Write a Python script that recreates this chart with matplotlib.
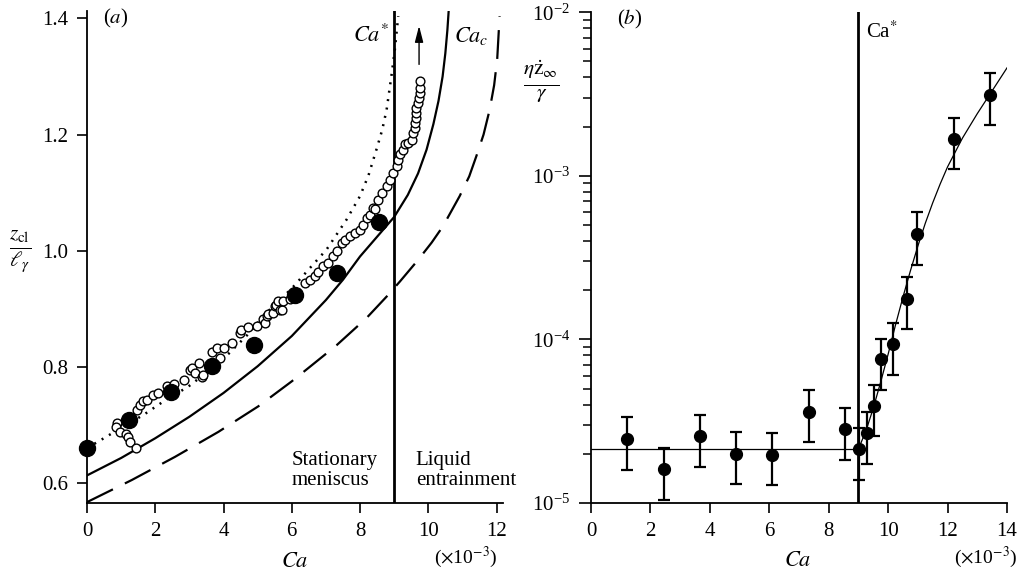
import numpy as np
import matplotlib
matplotlib.use("Agg")
import matplotlib.pyplot as plt
from matplotlib.ticker import LogLocator, NullFormatter

plt.rcParams['font.family'] = ['Liberation Serif', 'DejaVu Serif']
plt.rcParams['mathtext.fontset'] = 'stix'
plt.rcParams['font.size'] = 14

# ---------------- Panel (a) data ----------------
# filled circles
a_filled_ca = [0.0, 1.22, 2.45, 3.67, 4.89, 6.10, 7.33, 8.55]
a_filled_z = [0.660, 0.709, 0.757, 0.801, 0.837, 0.924, 0.962, 1.049]

# open circles
a_open_ca = [0.87, 0.85, 0.97, 1.14, 1.21, 1.26, 1.43, 1.47, 1.55, 1.63, 1.75, 1.92,
             2.09, 2.33, 2.55, 2.85, 3.02, 3.09, 3.16, 3.28, 3.36, 3.41, 3.65, 3.80,
             3.89, 4.01, 4.24, 4.48, 4.50, 4.72, 4.97, 5.16, 5.21, 5.26, 5.31, 5.46,
             5.51, 5.55, 5.60, 5.65, 5.70, 5.73, 5.94, 6.38, 6.53, 6.68, 6.77, 6.92,
             7.07, 7.21, 7.33, 7.46, 7.55, 7.70, 7.85, 7.99, 8.09, 8.19, 8.29, 8.38,
             8.43, 8.53, 8.63, 8.78, 8.87, 8.97, 9.07, 9.12, 9.17, 9.26, 9.31, 9.41,
             9.51, 9.56, 9.60, 9.60, 9.63, 9.65, 9.65, 9.70, 9.73, 9.75, 9.75, 9.77]
a_open_z = [0.704, 0.697, 0.688, 0.684, 0.679, 0.670, 0.660, 0.725, 0.734, 0.742, 0.743, 0.752,
            0.755, 0.767, 0.771, 0.778, 0.795, 0.798, 0.789, 0.806, 0.783, 0.786, 0.826, 0.832,
            0.815, 0.832, 0.841, 0.859, 0.864, 0.868, 0.870, 0.882, 0.875, 0.887, 0.891, 0.893,
            0.904, 0.907, 0.913, 0.898, 0.898, 0.914, 0.916, 0.944, 0.950, 0.956, 0.964, 0.973,
            0.979, 0.990, 0.999, 1.013, 1.019, 1.025, 1.030, 1.036, 1.045, 1.056, 1.062, 1.074,
            1.071, 1.088, 1.099, 1.111, 1.122, 1.134, 1.145, 1.157, 1.166, 1.174, 1.183, 1.186,
            1.191, 1.203, 1.211, 1.220, 1.228, 1.237, 1.245, 1.254, 1.263, 1.272, 1.280, 1.292]

# theoretical curves
solid_ca = [0.0, 1.0, 2.0, 3.0, 4.0, 5.0, 6.0, 7.0, 7.5, 8.0, 8.5, 9.0, 9.4, 9.7, 9.95,
            10.15, 10.3, 10.42, 10.5, 10.56, 10.6]
solid_z = [0.613, 0.643, 0.677, 0.714, 0.755, 0.801, 0.853, 0.915, 0.950, 0.990, 1.024,
           1.058, 1.096, 1.133, 1.174, 1.218, 1.258, 1.300, 1.340, 1.380, 1.415]

dashed_ca = [0.0, 1.31, 2.58, 3.85, 5.02, 6.0, 6.53, 7.31, 8.19, 8.78, 9.17, 9.70, 10.10,
             10.43, 10.92, 11.20, 11.41, 11.62, 11.80, 11.93, 12.02, 12.09]
dashed_z = [0.567, 0.605, 0.645, 0.688, 0.732, 0.775, 0.800, 0.837, 0.884, 0.921, 0.947,
            0.984, 1.014, 1.042, 1.094, 1.128, 1.163, 1.200, 1.243, 1.285, 1.330, 1.404]

dotted_ca = [0.0, 0.55, 1.0, 1.65, 2.23, 2.97, 3.5, 4.14, 4.7, 5.26, 6.00, 6.53, 7.02, 7.60,
             8.00, 8.25, 8.48, 8.65, 8.78, 8.92, 9.02, 9.12]
dotted_z = [0.660, 0.679, 0.695, 0.717, 0.740, 0.766, 0.790, 0.822, 0.855, 0.893, 0.935,
            0.970, 1.002, 1.053, 1.094, 1.130, 1.174, 1.208, 1.243, 1.301, 1.346, 1.404]

ca_star = 9.0

# ---------------- Panel (b) data ----------------
b_ca = [1.22, 2.45, 3.67, 4.89, 6.10, 7.33, 8.55, 9.03, 9.28, 9.52, 9.76, 10.18,
        10.65, 10.97, 12.20, 13.43]
b_rate = [2.47e-5, 1.61e-5, 2.56e-5, 2.00e-5, 1.97e-5, 3.62e-5, 2.82e-5, 2.14e-5,
          2.66e-5, 3.90e-5, 7.55e-5, 9.35e-5, 1.77e-4, 4.41e-4, 1.69e-3, 3.10e-3]
b_upper = [3.34e-5, 2.17e-5, 3.44e-5, 2.71e-5, 2.66e-5, 4.91e-5, 3.81e-5, 2.88e-5,
           3.59e-5, 5.30e-5, 1.01e-4, 1.26e-4, 2.40e-4, 5.97e-4, 2.27e-3, 4.23e-3]
b_lower = [1.60e-5, 1.05e-5, 1.66e-5, 1.31e-5, 1.28e-5, 2.36e-5, 1.84e-5, 1.39e-5,
           1.74e-5, 2.56e-5, 4.93e-5, 6.10e-5, 1.15e-4, 2.86e-4, 1.10e-3, 2.04e-3]

plateau_ca = [0.0, 9.0]
plateau_rate = [2.14e-5, 2.14e-5]
fit_ca = [9.00, 9.25, 9.50, 9.75, 10.00, 10.25, 10.50, 10.75, 11.00, 11.25, 11.50,
          11.75, 12.00, 12.50, 13.00, 13.50, 14.00]
fit_rate = [2.14e-5, 2.75e-5, 3.80e-5, 5.50e-5, 8.13e-5, 1.23e-4, 1.82e-4, 2.63e-4,
            3.72e-4, 5.13e-4, 6.84e-4, 8.91e-4, 1.135e-3, 1.70e-3, 2.40e-3, 3.31e-3, 4.57e-3]

a_xticks = [0, 2, 4, 6, 8, 10, 12]
a_yticks = [0.6, 0.8, 1.0, 1.2, 1.4]
b_xticks = [0, 2, 4, 6, 8, 10, 12, 14]

# ---------------- Figure ----------------
fig = plt.figure(figsize=(10.26, 5.74), dpi=100)
axa = fig.add_axes([0.0848, 0.1237, 0.4058, 0.857])
axb = fig.add_axes([0.576, 0.1237, 0.4055, 0.855])

for ax in (axa, axb):
    for s in ('top', 'right'):
        ax.spines[s].set_visible(False)
    for s in ('left', 'bottom'):
        ax.spines[s].set_linewidth(1.3)
    ax.tick_params(direction='out', length=7.5, width=1.2, labelsize=15, pad=6)

# Panel (a)
axa.plot(dashed_ca, dashed_z, color='black', lw=1.6, linestyle=(0, (13, 6)))
axa.plot(solid_ca, solid_z, color='black', lw=1.6)
axa.plot(dotted_ca, dotted_z, color='black', lw=1.8, linestyle=(0, (0.8, 2.6)))
axa.axvline(ca_star, color='black', lw=2.0)
axa.plot(a_open_ca, a_open_z, linestyle='none', marker='o', markersize=6.3,
         markerfacecolor='white', markeredgecolor='black', markeredgewidth=1.0)
axa.plot(a_filled_ca, a_filled_z, linestyle='none', marker='o', markersize=11.5,
         color='black', clip_on=False, zorder=5)
axa.annotate('', xy=(9.73, 1.392), xytext=(9.73, 1.316),
             arrowprops=dict(arrowstyle='-|>,head_length=0.7,head_width=0.18',
                             color='black', lw=1.0))
axa.set_xlim(0, 12.2)
axa.set_ylim(0.5655, 1.4126)
axa.set_xticks(a_xticks)
axa.set_yticks(a_yticks)
axa.set_yticklabels(['0.6', '0.8', '1.0', '1.2', '1.4'])
axa.text(0.85, 1.40, '($a$)', ha='center', va='center', fontsize=15)
axa.text(8.86, 1.37, r'$Ca^{*}$', ha='right', va='center', fontsize=16)
axa.text(10.75, 1.37, r'$Ca_{c}$', ha='left', va='center', fontsize=16)
axa.text(6.0, 0.621, 'Stationary\nmeniscus', ha='left', va='center', fontsize=15,
         linespacing=1.1)
axa.text(9.63, 0.621, 'Liquid\nentrainment', ha='left', va='center', fontsize=15,
         linespacing=1.1)
axa.text(6.1, -0.12, r'$Ca$', transform=axa.get_xaxis_transform(), ha='center',
         va='center', fontsize=16)
axa.text(11.1, -0.11, r'($\times$10$^{-3}$)', transform=axa.get_xaxis_transform(),
         ha='center', va='center', fontsize=14)
fig.text(0.0195, 0.5625, r'$\frac{z_{\mathrm{cl}}}{\ell_{\gamma}}$', ha='center',
         va='center', fontsize=22)

# Panel (b)
axb.set_yscale('log')
axb.plot(plateau_ca, plateau_rate, color='black', lw=0.9)
axb.plot(fit_ca, fit_rate, color='black', lw=0.9)
axb.axvline(ca_star, color='black', lw=2.0)
b_rate_a = np.array(b_rate)
yerr = [b_rate_a - np.array(b_lower), np.array(b_upper) - b_rate_a]
axb.errorbar(b_ca, b_rate, yerr=yerr, fmt='o', color='black', markersize=8.5,
             elinewidth=1.6, capsize=4.5, capthick=1.6, zorder=5)
axb.set_xlim(0, 14)
axb.set_ylim(1e-5, 1e-2)
axb.set_xticks(b_xticks)
axb.yaxis.set_major_locator(LogLocator(base=10, numticks=10))
axb.yaxis.set_minor_locator(LogLocator(base=10, subs=np.arange(2, 10), numticks=10))
axb.yaxis.set_minor_formatter(NullFormatter())
axb.tick_params(axis='y', which='major', length=9)
axb.tick_params(axis='y', which='minor', length=6, width=1.1)
axb.text(1.3, 9.0e-3, '($b$)', ha='center', va='center', fontsize=15)
axb.text(9.25, 7.6e-3, r'Ca$^{*}$', ha='left', va='center', fontsize=15)
axb.text(6.97, -0.12, r'$Ca$', transform=axb.get_xaxis_transform(), ha='center',
         va='center', fontsize=16)
axb.text(13.27, -0.11, r'($\times$10$^{-3}$)', transform=axb.get_xaxis_transform(),
         ha='center', va='center', fontsize=14)
fig.text(0.5275, 0.858, r'$\frac{\eta\dot{\mathrm{z}}_{\infty}}{\gamma}$', ha='center',
         va='center', fontsize=22)

fig.savefig('out.png', dpi=100)
